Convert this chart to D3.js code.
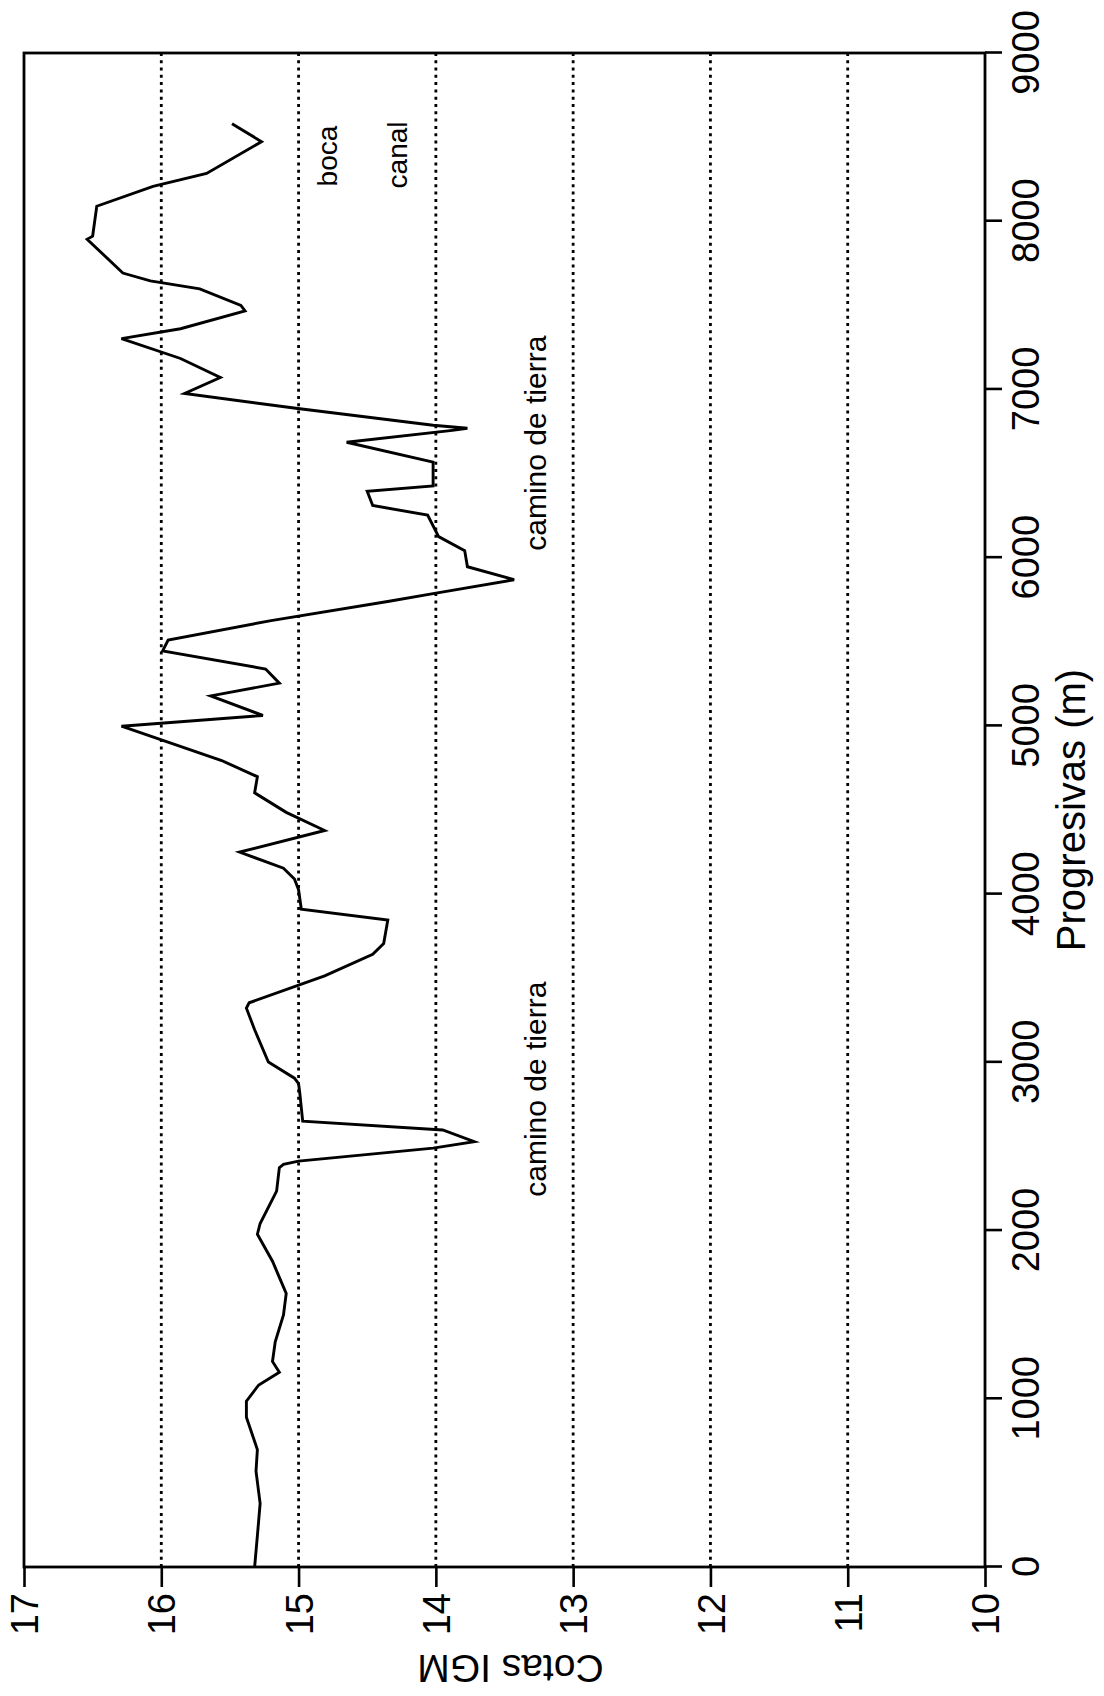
<!DOCTYPE html>
<html>
<head>
<meta charset="utf-8">
<script src="https://cdn.jsdelivr.net/npm/d3@7/dist/d3.min.js"></script>
<style>
  body { margin: 0; background: #fff; }
  text { font-family: "Liberation Sans", Arial, sans-serif; fill: #000; }
</style>
</head>
<body>
<div class="perfil"></div>
<script>
// perfil: progresiva (m) y cota IGM (m)
const progresivas = [0, 186, 378, 570, 698, 890, 986, 1082, 1158, 1222, 1338, 1498, 1626, 1722, 1818, 1978, 2042,
  2234, 2374, 2394, 2413, 2490, 2528, 2598, 2650, 2810, 2874, 2906, 3002, 3194, 3322, 3354, 3514, 3642, 3706,
  3846, 3910, 4026, 4090, 4154, 4250, 4378, 4486, 4602, 4698, 4794, 4998, 5062, 5178, 5254, 5338, 5446, 5510,
  5626, 5741, 5786, 5869, 5946, 6042, 6125, 6253, 6310, 6394, 6426, 6568, 6686, 6757, 6769, 6787, 6888, 6976,
  7071, 7184, 7302, 7361, 7467, 7500, 7598, 7645, 7692, 7893, 7911, 8089, 8207, 8284, 8473, 8580];
const cotas = [15.32, 15.30, 15.28, 15.31, 15.30, 15.38, 15.38, 15.29, 15.14, 15.19, 15.17, 15.11, 15.09, 15.14, 15.19, 15.30, 15.28,
  15.16, 15.14, 15.11, 15.00, 14.02, 13.72, 13.95, 14.97, 14.99, 15.00, 15.03, 15.22, 15.32, 15.38, 15.36, 14.81, 14.46, 14.38,
  14.35, 14.98, 15.00, 15.03, 15.11, 15.43, 14.81, 15.09, 15.32, 15.30, 15.56, 16.29, 15.26, 15.64, 15.14, 15.24, 15.99, 15.95,
  15.20, 14.34, 14.02, 13.43, 13.77, 13.79, 13.98, 14.06, 14.46, 14.50, 14.02, 14.02, 14.65, 13.88, 13.77, 14.02, 15.02, 15.83,
  15.57, 15.86, 16.29, 15.86, 15.39, 15.42, 15.72, 16.08, 16.28, 16.54, 16.50, 16.47, 16.06, 15.67, 15.27, 15.485];

const progTicks = [0, 1000, 2000, 3000, 4000, 5000, 6000, 7000, 8000, 9000];
const cotaTicks = [10, 11, 12, 13, 14, 15, 16, 17];
const gridCotas = [11, 12, 13, 14, 15, 16];

const notaTextos = ["boca", "canal", "camino de tierra", "camino de tierra"];
const notaProg = [8207, 8195, 2201, 6041];
const notaCota = [14.72, 14.21, 13.20, 13.20];

const W = 1104, H = 1696;
const len = 1514;   // largo del eje de progresivas
const alto = 961;   // largo del eje de cotas

const svg = d3.select(".perfil").append("svg")
  .attr("width", W)
  .attr("height", H);

// el grafico original esta girado 90 grados
const plot = svg.append("g")
  .attr("transform", "translate(24,1567) rotate(-90)");

const x = d3.scaleLinear().domain([0, 9000]).range([0, len]);
const y = d3.scaleLinear().domain([10, 17]).range([alto, 0]);

// lineas punteadas
plot.selectAll("line.grid")
  .data(gridCotas)
  .enter()
  .append("line")
  .attr("class", "grid")
  .attr("x1", 0)
  .attr("x2", len)
  .attr("y1", d => y(d))
  .attr("y2", d => y(d))
  .attr("stroke", "#000")
  .attr("stroke-width", 2.8)
  .attr("stroke-dasharray", "3,4.3");

// ejes
const xAxis = plot.append("g")
  .attr("transform", `translate(0,${alto})`)
  .call(d3.axisBottom(x).tickValues(progTicks).tickFormat(d3.format("d")).tickSize(17).tickPadding(10));

const yAxis = plot.append("g")
  .call(d3.axisLeft(y).tickValues(cotaTicks).tickFormat(d3.format("d")).tickSize(20).tickPadding(6));

[xAxis, yAxis].forEach(a => {
  a.select(".domain").remove();
  a.selectAll("line").attr("stroke", "#000").attr("stroke-width", 2.6);
  a.selectAll("text").style("font-size", "38px").attr("fill", "#000");
});
xAxis.selectAll("text").attr("dy", "0.72em");
yAxis.selectAll("text").attr("dy", "0.36em");

// marco
plot.append("rect")
  .attr("x", 0)
  .attr("y", 0)
  .attr("width", len)
  .attr("height", alto)
  .attr("fill", "none")
  .attr("stroke", "#000")
  .attr("stroke-width", 2.8);

// perfil
const linea = d3.line()
  .x((d, i) => x(progresivas[i]))
  .y(d => y(d));

plot.append("path")
  .datum(cotas)
  .attr("d", linea)
  .attr("fill", "none")
  .attr("stroke", "#000")
  .attr("stroke-width", 2.9)
  .attr("stroke-linejoin", "miter");

// notas
plot.selectAll("text.nota")
  .data(notaTextos)
  .enter()
  .append("text")
  .attr("class", "nota")
  .attr("x", (d, i) => x(notaProg[i]))
  .attr("y", (d, i) => y(notaCota[i]))
  .style("font-size", (d, i) => i < 2 ? "28px" : "30px")
  .text(d => d);

// titulos de ejes
plot.append("text")
  .attr("x", len / 2)
  .attr("y", alto + 100)
  .attr("text-anchor", "middle")
  .style("font-size", "40px")
  .text("Progresivas (m)");

plot.append("text")
  .attr("transform", `translate(-88,${alto / 2 + 6}) rotate(-90)`)
  .attr("text-anchor", "middle")
  .style("font-size", "39px")
  .text("Cotas IGM");
</script>
</body>
</html>
